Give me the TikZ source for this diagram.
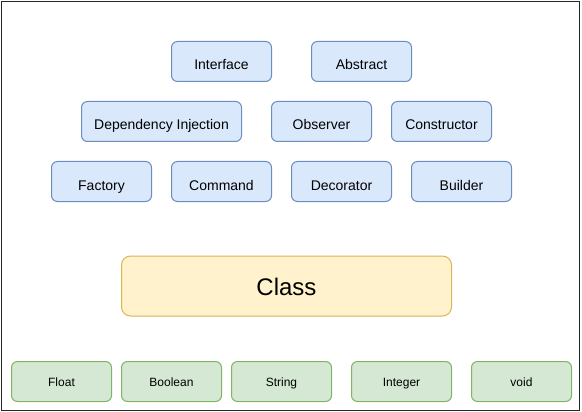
\documentclass[tikz,border=0pt]{standalone}
\usepackage{fontspec}
\setmainfont{Liberation Sans}
\definecolor{bfill}{HTML}{DAE8FC}
\definecolor{bdraw}{HTML}{6C8EBF}
\definecolor{yfill}{HTML}{FFF2CC}
\definecolor{ydraw}{HTML}{D6B656}
\definecolor{gfill}{HTML}{D5E8D4}
\definecolor{gdraw}{HTML}{82B366}
\tikzset{
  base/.style={rectangle, rounded corners=6pt, inner sep=0pt, line width=1pt, text=black, text depth=0pt},
  bluebox/.style={base, fill=bfill, draw=bdraw, minimum height=40pt, font=\fontsize{14}{16}\selectfont, text height=17pt},
  greenbox/.style={base, fill=gfill, draw=gdraw, minimum height=40pt, minimum width=100pt, font=\fontsize{12}{14}\selectfont, text height=9pt},
  classbox/.style={base, fill=yfill, draw=ydraw, rounded corners=9pt, minimum height=60pt, minimum width=330pt, font=\fontsize{24}{28}\selectfont, text height=18pt},
}
\begin{document}
\begin{tikzpicture}[x=1pt,y=-1pt]
\useasboundingbox (0,0) rectangle (582,412);
\draw[line width=1.6pt, draw=black!85] (1.5,1.5) rectangle (579.5,410.5);
% row 1
\node[bluebox, minimum width=100pt] (interface) at (221.5,61.5) {Interface};
\node[bluebox, minimum width=100pt] (abstract) at (361.5,61.5) {Abstract};
% row 2
\node[bluebox, minimum width=160pt] (di) at (161.5,121.5) {Dependency Injection};
\node[bluebox, minimum width=100pt] (observer) at (321.5,121.5) {Observer};
\node[bluebox, minimum width=100pt] (constructor) at (441.5,121.5) {Constructor};
% row 3
\node[bluebox, minimum width=100pt] (factory) at (101.5,181.5) {Factory};
\node[bluebox, minimum width=100pt] (command) at (221.5,181.5) {Command};
\node[bluebox, minimum width=100pt] (decorator) at (341.5,181.5) {Decorator};
\node[bluebox, minimum width=100pt] (builder) at (461.5,181.5) {Builder};
% class
\node[classbox] (class) at (286.5,286) {Class};
% bottom row
\node[greenbox] (float) at (61.5,381.5) {Float};
\node[greenbox] (boolean) at (171.5,381.5) {Boolean};
\node[greenbox] (string) at (281.5,381.5) {String};
\node[greenbox] (integer) at (401.5,381.5) {Integer};
\node[greenbox] (void) at (521.5,381.5) {void};
\end{tikzpicture}
\end{document}
